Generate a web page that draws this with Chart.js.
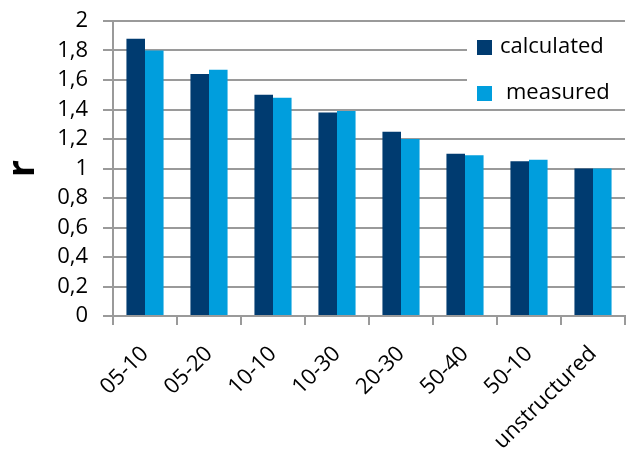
<!DOCTYPE html>
<html>
<head>
<meta charset="utf-8">
<script src="https://cdn.jsdelivr.net/npm/chart.js@4"></script>
<style>
  html, body { margin: 0; padding: 0; background: #fff; }
  #wrap { width: 633px; height: 450px; }
</style>
</head>
<body>
<div id="wrap"><canvas id="rChart"></canvas></div>
<script>
'use strict';
// donnees
const categories = ['05-10', '05-20', '10-10', '10-30', '20-30', '50-40', '50-10', 'unstructured'];
const calculated = [1.88, 1.64, 1.50, 1.38, 1.25, 1.10, 1.05, 1.00];
const measured   = [1.80, 1.67, 1.48, 1.39, 1.20, 1.09, 1.06, 1.00];
const seriesNames = ['calculated', 'measured'];

const FONT = "'Open Sans', 'Noto Sans', sans-serif";
const navy = '#003b70';
const sky = '#009edd';
const grey = '#9a9a9a';

// legende dessinee dans la zone du graphe, fond blanc par dessus la grille
const legendInside = {
  id: 'legendInside',
  afterDatasetsDraw(chart) {
    const ctx = chart.ctx;
    const area = chart.chartArea;
    const x0 = area.right - 158;
    ctx.save();
    ctx.fillStyle = '#fff';
    ctx.fillRect(x0, area.top + 2, area.right - x0 + 2, 86);
    const rows = [
      { y: area.top + 26, color: navy, text: seriesNames[0], dx: 23 },
      { y: area.top + 72, color: sky, text: seriesNames[1], dx: 29 }
    ];
    ctx.font = '22px ' + FONT;
    ctx.textBaseline = 'middle';
    ctx.textAlign = 'left';
    rows.forEach(r => {
      ctx.fillStyle = r.color;
      ctx.fillRect(x0 + 10, r.y - 7, 15, 15);
      ctx.fillStyle = '#000';
      ctx.fillText(r.text, x0 + 10 + r.dx, r.y);
    });
    ctx.restore();
  }
};

new Chart(document.getElementById('rChart'), {
  type: 'bar',
  data: {
    labels: categories,
    datasets: [
      { label: seriesNames[0], data: calculated, backgroundColor: navy, borderWidth: 0 },
      { label: seriesNames[1], data: measured, backgroundColor: sky, borderWidth: 0 }
    ]
  },
  options: {
    responsive: true,
    maintainAspectRatio: false,
    animation: false,
    layout: { padding: { top: 21, right: 8, left: 0, bottom: 0 } },
    datasets: { bar: { categoryPercentage: 0.58, barPercentage: 1.0 } },
    plugins: {
      legend: { display: false },
      tooltip: { enabled: false }
    },
    scales: {
      x: {
        grid: { drawOnChartArea: false, drawTicks: true, tickLength: 9, color: grey, lineWidth: 2, offset: true },
        border: { color: grey, width: 2 },
        ticks: {
          minRotation: 45, maxRotation: 45, padding: 16,
          color: '#000', font: { family: FONT, size: 22 }
        },
        afterFit(scale) { scale.height = 134; }
      },
      y: {
        min: 0, max: 2,
        grid: { color: grey, lineWidth: 2, tickLength: 10 },
        border: { color: grey, width: 2 },
        ticks: {
          stepSize: 0.2, padding: 15, autoSkip: false, color: '#000',
          font: { family: FONT, size: 22 },
          callback: v => (Math.round(v * 10) / 10).toString().replace('.', ',')
        },
        title: {
          display: true, text: 'r', color: '#000',
          font: { family: FONT, size: 38, weight: 'bold' },
          padding: { top: 0, bottom: 0 }
        },
        afterFit(scale) {
          scale.width = 113;
          scale.paddingTop = 0;
          scale.paddingBottom = 0;
        }
      }
    }
  },
  plugins: [legendInside]
});
</script>
</body>
</html>
